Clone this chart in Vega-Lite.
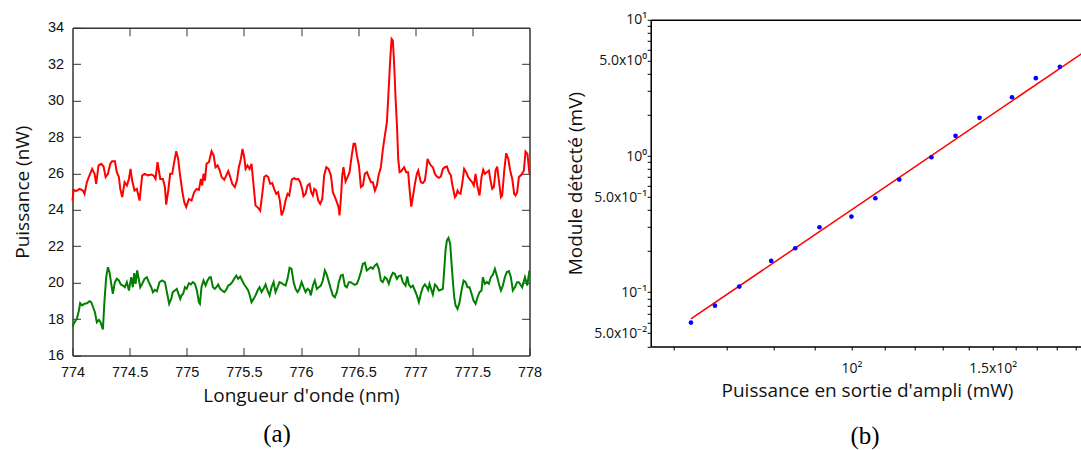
{
  "$schema": "https://vega.github.io/schema/vega-lite/v6.json",
  "background": "white",
  "padding": {"left": 12.5, "top": 12.8, "right": 0, "bottom": 0},
  "bounds": "flush",
  "spacing": 121.2,
  "datasets": {
    "red": [
      {"nm":774.0,"nW":24.51},{"nm":774.009,"nW":25.10},{"nm":774.032,"nW":25.03},{"nm":774.062,"nW":25.15},{"nm":774.091,"nW":25.06},{"nm":774.105,"nW":24.88},{"nm":774.126,"nW":25.52},{"nm":774.149,"nW":25.89},{"nm":774.172,"nW":26.25},{"nm":774.193,"nW":25.98},{"nm":774.207,"nW":25.43},{"nm":774.228,"nW":26.44},{"nm":774.251,"nW":26.53},{"nm":774.272,"nW":26.38},{"nm":774.290,"nW":25.80},{"nm":774.310,"nW":25.98},{"nm":774.331,"nW":26.53},{"nm":774.347,"nW":26.67},{"nm":774.371,"nW":26.67},{"nm":774.388,"nW":26.07},{"nm":774.406,"nW":25.80},{"nm":774.418,"nW":25.15},{"nm":774.435,"nW":24.70},{"nm":774.456,"nW":25.52},{"nm":774.476,"nW":25.34},{"nm":774.494,"nW":25.70},{"nm":774.508,"nW":26.25},{"nm":774.522,"nW":25.61},{"nm":774.543,"nW":25.06},{"nm":774.563,"nW":25.15},{"nm":774.587,"nW":24.51},{"nm":774.610,"nW":25.89},{"nm":774.633,"nW":25.98},{"nm":774.660,"nW":25.89},{"nm":774.689,"nW":25.94},{"nm":774.709,"nW":25.89},{"nm":774.727,"nW":25.70},{"nm":774.744,"nW":26.62},{"nm":774.768,"nW":25.70},{"nm":774.791,"nW":25.70},{"nm":774.809,"nW":25.25},{"nm":774.820,"nW":24.29},{"nm":774.838,"nW":25.06},{"nm":774.855,"nW":25.98},{"nm":774.873,"nW":25.98},{"nm":774.890,"nW":26.62},{"nm":774.908,"nW":27.22},{"nm":774.925,"nW":26.80},
      {"nm":774.940,"nW":25.98},{"nm":774.960,"nW":25.06},{"nm":774.978,"nW":24.42},{"nm":774.995,"nW":24.15},{"nm":775.019,"nW":24.60},{"nm":775.042,"nW":24.51},{"nm":775.065,"nW":24.97},{"nm":775.086,"nW":25.15},{"nm":775.106,"nW":25.10},{"nm":775.124,"nW":25.70},{"nm":775.135,"nW":25.34},{"nm":775.147,"nW":25.98},{"nm":775.159,"nW":25.61},{"nm":775.173,"nW":26.53},{"nm":775.194,"nW":26.62},{"nm":775.217,"nW":27.22},{"nm":775.235,"nW":26.99},{"nm":775.252,"nW":26.34},{"nm":775.270,"nW":26.44},{"nm":775.287,"nW":26.20},{"nm":775.305,"nW":25.80},{"nm":775.328,"nW":25.65},{"nm":775.346,"nW":25.89},{"nm":775.363,"nW":26.12},{"nm":775.381,"nW":25.80},{"nm":775.398,"nW":25.43},{"nm":775.421,"nW":25.25},{"nm":775.439,"nW":25.61},{"nm":775.456,"nW":26.34},{"nm":775.474,"nW":26.80},{"nm":775.488,"nW":27.35},{"nm":775.503,"nW":26.89},{"nm":775.515,"nW":26.25},{"nm":775.532,"nW":26.44},{"nm":775.550,"nW":26.25},{"nm":775.567,"nW":26.53},{"nm":775.585,"nW":25.34},{"nm":775.602,"nW":24.24},{"nm":775.625,"nW":24.11},{"nm":775.643,"nW":23.96},{"nm":775.661,"nW":24.88},{"nm":775.678,"nW":25.80},{"nm":775.695,"nW":25.89},{"nm":775.713,"nW":25.80},{"nm":775.730,"nW":25.43},{"nm":775.748,"nW":25.47},{"nm":775.765,"nW":25.15},{"nm":775.783,"nW":24.88},{"nm":775.800,"nW":24.97},{"nm":775.815,"nW":24.51},{"nm":775.830,"nW":23.69},{"nm":775.847,"nW":23.96},{"nm":775.865,"nW":24.51},{"nm":775.882,"nW":24.88},{"nm":775.897,"nW":24.79},
      {"nm":775.920,"nW":25.67},{"nm":775.941,"nW":25.74},{"nm":775.958,"nW":25.67},{"nm":775.976,"nW":25.70},{"nm":775.993,"nW":25.52},{"nm":776.010,"nW":25.15},{"nm":776.022,"nW":24.75},{"nm":776.040,"nW":24.88},{"nm":776.057,"nW":25.34},{"nm":776.075,"nW":25.43},{"nm":776.089,"nW":24.97},{"nm":776.104,"nW":24.79},{"nm":776.116,"nW":25.15},{"nm":776.133,"nW":25.06},{"nm":776.151,"nW":24.51},{"nm":776.168,"nW":24.33},{"nm":776.186,"nW":24.60},{"nm":776.203,"nW":25.89},{"nm":776.221,"nW":26.34},{"nm":776.241,"nW":26.25},{"nm":776.262,"nW":25.89},{"nm":776.279,"nW":24.97},{"nm":776.297,"nW":24.70},{"nm":776.314,"nW":24.42},{"nm":776.329,"nW":24.15},{"nm":776.337,"nW":23.69},{"nm":776.349,"nW":24.60},{"nm":776.361,"nW":25.89},{"nm":776.372,"nW":26.34},{"nm":776.390,"nW":25.56},{"nm":776.407,"nW":25.80},{"nm":776.425,"nW":26.07},{"nm":776.442,"nW":26.89},{"nm":776.460,"nW":27.63},{"nm":776.474,"nW":27.63},{"nm":776.489,"nW":26.99},{"nm":776.507,"nW":26.44},{"nm":776.524,"nW":25.25},{"nm":776.542,"nW":25.34},{"nm":776.559,"nW":25.98},{"nm":776.577,"nW":26.07},{"nm":776.594,"nW":25.80},{"nm":776.612,"nW":25.52},{"nm":776.629,"nW":25.52},{"nm":776.647,"nW":25.06},{"nm":776.664,"nW":25.34},{"nm":776.679,"nW":25.89},{"nm":776.699,"nW":26.34},{"nm":776.717,"nW":27.35},{"nm":776.734,"nW":28.08},{"nm":776.752,"nW":28.82},{"nm":776.766,"nW":30.46},{"nm":776.781,"nW":32.29},{"nm":776.793,"nW":33.39},{"nm":776.804,"nW":33.30},{"nm":776.816,"nW":31.93},{"nm":776.828,"nW":30.10},{"nm":776.840,"nW":28.63},{"nm":776.851,"nW":26.80},{"nm":776.863,"nW":26.07},{"nm":776.875,"nW":26.11},
      {"nm":776.903,"nW":26.34},{"nm":776.921,"nW":26.07},{"nm":776.938,"nW":26.07},{"nm":776.950,"nW":25.15},{"nm":776.965,"nW":24.18},{"nm":776.979,"nW":24.70},{"nm":776.997,"nW":25.43},{"nm":777.014,"nW":25.98},{"nm":777.026,"nW":26.16},{"nm":777.038,"nW":25.80},{"nm":777.049,"nW":25.52},{"nm":777.067,"nW":25.47},{"nm":777.084,"nW":25.61},{"nm":777.096,"nW":26.16},{"nm":777.108,"nW":26.80},{"nm":777.119,"nW":26.62},{"nm":777.137,"nW":26.44},{"nm":777.154,"nW":26.34},{"nm":777.172,"nW":25.98},{"nm":777.189,"nW":25.83},{"nm":777.207,"nW":25.76},{"nm":777.224,"nW":25.83},{"nm":777.242,"nW":26.25},{"nm":777.259,"nW":26.34},{"nm":777.277,"nW":26.38},{"nm":777.294,"nW":26.07},{"nm":777.312,"nW":25.89},{"nm":777.323,"nW":25.43},{"nm":777.335,"nW":25.06},{"nm":777.347,"nW":24.70},{"nm":777.358,"nW":24.79},{"nm":777.370,"nW":25.06},{"nm":777.382,"nW":24.92},{"nm":777.396,"nW":24.88},{"nm":777.411,"nW":25.43},{"nm":777.428,"nW":26.25},{"nm":777.446,"nW":26.07},{"nm":777.463,"nW":25.80},{"nm":777.481,"nW":25.65},{"nm":777.498,"nW":25.52},{"nm":777.513,"nW":25.34},{"nm":777.528,"nW":25.98},{"nm":777.545,"nW":25.25},{"nm":777.563,"nW":24.79},{"nm":777.580,"nW":25.80},{"nm":777.595,"nW":26.20},{"nm":777.610,"nW":25.98},{"nm":777.627,"nW":26.07},{"nm":777.645,"nW":26.16},{"nm":777.659,"nW":25.61},{"nm":777.674,"nW":25.15},{"nm":777.688,"nW":25.25},{"nm":777.703,"nW":26.16},{"nm":777.717,"nW":26.38},{"nm":777.732,"nW":25.61},{"nm":777.750,"nW":24.70},{"nm":777.761,"nW":24.79},{"nm":777.779,"nW":26.16},{"nm":777.796,"nW":27.11},{"nm":777.814,"nW":26.80},{"nm":777.831,"nW":26.16},{"nm":777.849,"nW":25.70},{"nm":777.866,"nW":24.88},{"nm":777.878,"nW":24.79},{"nm":777.892,"nW":24.97},{"nm":777.907,"nW":25.79},{"nm":777.930,"nW":25.94},{"nm":777.951,"nW":26.16},{"nm":777.965,"nW":27.21},{"nm":777.982,"nW":27.08},{"nm":778.0,"nW":25.98}
    ],
    "green": [
      {"nm":774.0,"nW":17.59},{"nm":774.018,"nW":17.83},{"nm":774.038,"nW":18.01},{"nm":774.056,"nW":18.47},{"nm":774.067,"nW":18.87},{"nm":774.085,"nW":18.75},{"nm":774.105,"nW":18.84},{"nm":774.126,"nW":18.87},{"nm":774.149,"nW":18.98},{"nm":774.164,"nW":18.93},{"nm":774.178,"nW":18.69},{"nm":774.196,"nW":18.38},{"nm":774.213,"nW":17.83},{"nm":774.231,"nW":17.96},{"nm":774.245,"nW":17.83},{"nm":774.266,"nW":17.43},{"nm":774.280,"nW":19.02},{"nm":774.295,"nW":20.30},{"nm":774.310,"nW":20.85},{"nm":774.324,"nW":20.58},{"nm":774.339,"nW":19.94},{"nm":774.353,"nW":19.39},{"nm":774.371,"nW":20.03},{"nm":774.388,"nW":20.21},{"nm":774.406,"nW":20.12},{"nm":774.423,"nW":19.90},{"nm":774.441,"nW":19.84},{"nm":774.458,"nW":19.75},{"nm":774.476,"nW":20.03},{"nm":774.494,"nW":19.57},{"nm":774.514,"nW":20.30},{"nm":774.528,"nW":19.75},{"nm":774.540,"nW":20.52},{"nm":774.552,"nW":19.94},{"nm":774.566,"nW":20.67},{"nm":774.581,"nW":20.16},{"nm":774.593,"nW":19.75},{"nm":774.610,"nW":19.94},{"nm":774.630,"nW":20.21},{"nm":774.651,"nW":20.30},{"nm":774.668,"nW":20.03},{"nm":774.689,"nW":19.75},{"nm":774.704,"nW":19.48},{"nm":774.721,"nW":19.61},{"nm":774.738,"nW":19.53},{"nm":774.762,"nW":20.03},{"nm":774.785,"nW":20.12},{"nm":774.809,"nW":20.03},{"nm":774.829,"nW":19.39},{"nm":774.846,"nW":18.84},{"nm":774.864,"nW":19.11},{"nm":774.878,"nW":19.48},{"nm":774.896,"nW":19.57},{"nm":774.913,"nW":19.66},
      {"nm":774.943,"nW":19.11},{"nm":774.954,"nW":19.30},{"nm":774.969,"nW":19.39},{"nm":774.984,"nW":19.75},{"nm":774.999,"nW":19.66},{"nm":775.019,"nW":19.97},{"nm":775.036,"nW":19.90},{"nm":775.054,"nW":20.03},{"nm":775.071,"nW":19.94},{"nm":775.089,"nW":19.57},{"nm":775.106,"nW":18.93},{"nm":775.115,"nW":18.84},{"nm":775.129,"nW":19.75},{"nm":775.147,"nW":20.12},{"nm":775.165,"nW":19.84},{"nm":775.182,"nW":20.12},{"nm":775.200,"nW":20.30},{"nm":775.211,"nW":20.30},{"nm":775.229,"nW":19.75},{"nm":775.246,"nW":19.66},{"nm":775.264,"nW":19.79},{"nm":775.275,"nW":19.90},{"nm":775.293,"nW":19.66},{"nm":775.310,"nW":19.57},{"nm":775.328,"nW":19.48},{"nm":775.346,"nW":19.61},{"nm":775.363,"nW":19.84},{"nm":775.381,"nW":19.90},{"nm":775.398,"nW":20.03},{"nm":775.415,"nW":20.21},{"nm":775.433,"nW":20.39},{"nm":775.450,"nW":20.21},{"nm":775.468,"nW":20.34},{"nm":775.485,"nW":20.12},{"nm":775.503,"nW":19.90},{"nm":775.520,"nW":19.75},{"nm":775.538,"nW":19.57},{"nm":775.552,"nW":19.30},{"nm":775.567,"nW":18.93},{"nm":775.585,"nW":19.11},{"nm":775.602,"nW":19.30},{"nm":775.620,"nW":19.57},{"nm":775.637,"nW":19.75},{"nm":775.655,"nW":19.48},{"nm":775.672,"nW":19.66},{"nm":775.690,"nW":19.90},{"nm":775.707,"nW":19.57},{"nm":775.725,"nW":19.30},{"nm":775.742,"nW":19.75},{"nm":775.760,"nW":20.03},{"nm":775.777,"nW":19.48},{"nm":775.795,"nW":19.75},{"nm":775.812,"nW":20.03},{"nm":775.830,"nW":19.97},{"nm":775.847,"nW":19.90},{"nm":775.865,"nW":19.84},{"nm":775.882,"nW":20.21},{"nm":775.900,"nW":20.82},{"nm":775.917,"nW":20.76},
      {"nm":775.935,"nW":20.03},{"nm":775.952,"nW":19.66},{"nm":775.970,"nW":19.48},{"nm":775.987,"nW":19.66},{"nm":776.005,"nW":20.03},{"nm":776.022,"nW":19.75},{"nm":776.040,"nW":19.48},{"nm":776.057,"nW":19.66},{"nm":776.075,"nW":19.57},{"nm":776.086,"nW":19.30},{"nm":776.104,"nW":19.84},{"nm":776.121,"nW":20.12},{"nm":776.139,"nW":19.66},{"nm":776.156,"nW":19.75},{"nm":776.174,"nW":19.84},{"nm":776.191,"nW":20.12},{"nm":776.209,"nW":20.67},{"nm":776.226,"nW":20.43},{"nm":776.244,"nW":20.03},{"nm":776.261,"nW":19.66},{"nm":776.279,"nW":19.30},{"nm":776.296,"nW":19.20},{"nm":776.314,"nW":19.48},{"nm":776.331,"nW":20.03},{"nm":776.349,"nW":20.39},{"nm":776.366,"nW":20.43},{"nm":776.384,"nW":19.84},{"nm":776.401,"nW":19.75},{"nm":776.419,"nW":20.03},{"nm":776.436,"nW":20.03},{"nm":776.454,"nW":19.94},{"nm":776.471,"nW":19.88},{"nm":776.489,"nW":19.94},{"nm":776.506,"nW":20.21},{"nm":776.524,"nW":20.58},{"nm":776.541,"nW":21.03},{"nm":776.559,"nW":21.09},{"nm":776.576,"nW":20.67},{"nm":776.594,"nW":20.76},{"nm":776.611,"nW":20.85},{"nm":776.629,"nW":20.76},{"nm":776.646,"nW":20.94},{"nm":776.664,"nW":21.03},{"nm":776.681,"nW":20.76},{"nm":776.699,"nW":20.12},{"nm":776.716,"nW":20.03},{"nm":776.734,"nW":20.30},{"nm":776.751,"nW":20.21},{"nm":776.769,"nW":19.94},{"nm":776.786,"nW":20.30},{"nm":776.804,"nW":20.54},{"nm":776.821,"nW":20.49},{"nm":776.839,"nW":20.21},{"nm":776.856,"nW":20.36},{"nm":776.874,"nW":20.39},{"nm":776.891,"nW":20.03},
      {"nm":776.915,"nW":19.84},{"nm":776.930,"nW":20.34},{"nm":776.944,"nW":19.90},{"nm":776.962,"nW":19.75},{"nm":776.979,"nW":19.84},{"nm":776.997,"nW":19.57},{"nm":777.014,"nW":19.30},{"nm":777.032,"nW":18.93},{"nm":777.049,"nW":19.39},{"nm":777.067,"nW":19.75},{"nm":777.084,"nW":19.90},{"nm":777.102,"nW":19.75},{"nm":777.113,"nW":19.61},{"nm":777.125,"nW":19.94},{"nm":777.143,"nW":19.57},{"nm":777.154,"nW":19.35},{"nm":777.172,"nW":19.90},{"nm":777.189,"nW":19.79},{"nm":777.207,"nW":19.57},{"nm":777.224,"nW":19.61},{"nm":777.242,"nW":19.66},{"nm":777.253,"nW":20.67},{"nm":777.265,"nW":21.77},{"nm":777.277,"nW":22.32},{"nm":777.291,"nW":22.46},{"nm":777.306,"nW":22.13},{"nm":777.318,"nW":21.03},{"nm":777.329,"nW":20.12},{"nm":777.341,"nW":19.20},{"nm":777.353,"nW":18.75},{"nm":777.370,"nW":18.56},{"nm":777.388,"nW":18.93},{"nm":777.405,"nW":19.57},{"nm":777.423,"nW":20.12},{"nm":777.440,"nW":20.03},{"nm":777.458,"nW":19.75},{"nm":777.475,"nW":19.75},{"nm":777.493,"nW":19.39},{"nm":777.510,"nW":19.02},{"nm":777.528,"nW":18.84},{"nm":777.545,"nW":19.20},{"nm":777.563,"nW":19.48},{"nm":777.580,"nW":19.57},{"nm":777.592,"nW":20.30},{"nm":777.609,"nW":19.94},{"nm":777.627,"nW":20.03},{"nm":777.644,"nW":19.94},{"nm":777.662,"nW":20.30},{"nm":777.680,"nW":20.45},{"nm":777.697,"nW":20.76},{"nm":777.714,"nW":20.39},{"nm":777.732,"nW":19.94},{"nm":777.750,"nW":19.57},{"nm":777.767,"nW":19.84},{"nm":777.784,"nW":20.30},{"nm":777.802,"nW":20.58},{"nm":777.820,"nW":20.63},{"nm":777.837,"nW":20.30},{"nm":777.854,"nW":19.57},{"nm":777.872,"nW":19.75},{"nm":777.892,"nW":20.03},{"nm":777.907,"nW":20.03},{"nm":777.936,"nW":19.75},{"nm":777.960,"nW":20.30},{"nm":777.980,"nW":19.84},{"nm":778.0,"nW":20.67}
    ],
    "pts": [
      {"mw":63.11,"mv":0.0599},{"mw":67.61,"mv":0.0798},{"mw":72.50,"mv":0.1101},{"mw":79.45,"mv":0.1700},{"mw":85.11,"mv":0.2104},{"mw":91.25,"mv":0.3001},{"mw":100.0,"mv":0.3596},{"mw":107.1,"mv":0.4900},{"mw":114.7,"mv":0.6722},{"mw":125.8,"mv":0.980},{"mw":134.8,"mv":1.407},{"mw":144.4,"mv":1.908},{"mw":158.5,"mv":2.702},{"mw":169.7,"mv":3.726},{"mw":181.8,"mv":4.517}
    ],
    "fit": [
      {"mw":63.1,"mv":0.0638},{"mw":194.4,"mv":5.742}
    ]
  },
  "hconcat": [
    {
      "width": 457,
      "height": 335.7,
      "title": {"text": "(a)", "orient": "bottom", "anchor": "middle", "frame": "group", "font": "Liberation Serif", "fontSize": 25, "fontWeight": "normal", "color": "#000", "dx": -24, "offset": 16},
      "layer": [
        {
          "data": {"name": "red"},
          "mark": {"type": "line", "color": "#ff0000", "strokeWidth": 2},
          "encoding": {
            "x": {"field": "nm", "type": "quantitative",
              "scale": {"domain": [774, 778], "nice": false, "zero": false},
              "axis": {"orient": "bottom", "values": [774, 774.5, 775, 775.5, 776, 776.5, 777, 777.5, 778], "format": "~g", "title": "Longueur d'onde (nm)", "tickSize": -8, "labelPadding": 18, "titlePadding": 8, "labelFlush": false, "labelOverlap": false, "labelFont": "Liberation Sans", "labelFontSize": 14.5, "labelColor": "#111", "domainColor": "#333", "domainWidth": 1.5, "tickColor": "#333", "tickWidth": 1}},
            "y": {"field": "nW", "type": "quantitative",
              "scale": {"domain": [16, 34], "range": [335.7, 8], "nice": false, "zero": false},
              "axis": {"orient": "left", "values": [16, 18, 20, 22, 24, 26, 28, 30, 32, 34], "title": "Puissance (nW)", "tickSize": -8, "labelPadding": 17, "titlePadding": 15, "labelOverlap": false, "labelFont": "Liberation Sans", "labelFontSize": 14.5, "labelColor": "#111", "domainColor": "#333", "domainWidth": 1.5, "tickColor": "#333", "tickWidth": 1}}
          }
        },
        {
          "data": {"name": "green"},
          "mark": {"type": "line", "color": "#008000", "strokeWidth": 2},
          "encoding": {
            "x": {"field": "nm", "type": "quantitative",
              "axis": {"orient": "top", "offset": -8, "values": [774.5, 775, 775.5, 776, 776.5, 777, 777.5], "labels": false, "title": null, "tickSize": -8, "domainColor": "#333", "domainWidth": 1.5, "tickColor": "#333", "tickWidth": 1}},
            "y": {"field": "nW", "type": "quantitative",
              "axis": {"orient": "right", "values": [18, 20, 22, 24, 26, 28, 30, 32], "labels": false, "title": null, "tickSize": -8, "domainColor": "#333", "domainWidth": 1.5, "tickColor": "#333", "tickWidth": 1}}
          }
        }
      ],
      "resolve": {"axis": {"x": "independent", "y": "independent"}}
    },
    {
      "width": 432.5,
      "height": 326.7,
      "title": {"text": "(b)", "orient": "bottom", "anchor": "middle", "frame": "group", "font": "Liberation Serif", "fontSize": 25, "fontWeight": "normal", "color": "#000", "dx": -2, "offset": 23},
      "layer": [
        {
          "data": {"name": "fit"},
          "mark": {"type": "line", "color": "#ff0000", "strokeWidth": 1.5, "clip": true},
          "encoding": {
            "x": {"field": "mw", "type": "quantitative",
              "scale": {"type": "log", "domain": [56.23, 194.4], "nice": false},
              "axis": {"orient": "top", "labels": false, "ticks": false, "title": null, "domainColor": "#000", "domainWidth": 1.5}},
            "y": {"field": "mv", "type": "quantitative",
              "scale": {"type": "log", "domain": [0.04, 10], "nice": false},
              "axis": {"orient": "left", "values": [0.04, 0.05, 0.06, 0.07, 0.08, 0.09, 0.1, 0.2, 0.3, 0.4, 0.5, 0.6, 0.7, 0.8, 0.9, 1, 2, 3, 4, 5, 6, 7, 8, 9, 10],
                "labelExpr": "datum.value == 10 ? '10¹' : datum.value == 5 ? '5.0x10⁰' : datum.value == 1 ? '10⁰' : datum.value == 0.5 ? '5.0x10⁻¹' : datum.value == 0.1 ? '10⁻¹' : datum.value == 0.05 ? '5.0x10⁻²' : ''",
                "title": "Module détecté (mV)", "tickSize": 3.5, "labelPadding": 0.5, "titlePadding": 8, "labelOverlap": false, "labelFont": "Open Sans", "labelFontSize": 14, "labelColor": "#111", "domainColor": "#000", "domainWidth": 1.5, "tickColor": "#000", "tickWidth": 1}}
          }
        },
        {
          "data": {"name": "pts"},
          "mark": {"type": "circle", "color": "#0000ff", "size": 22, "opacity": 1},
          "encoding": {
            "x": {"field": "mw", "type": "quantitative",
              "axis": {"orient": "bottom", "values": [60, 70, 80, 90, 100, 110, 120, 130, 140, 150, 160, 170, 180, 190],
                "labelExpr": "datum.value == 100 ? '10²' : datum.value == 150 ? '1.5x10²' : ''",
                "title": "Puissance en sortie d'ampli (mW)", "tickSize": 3.5, "labelPadding": 12, "titlePadding": 6, "labelFlush": false, "labelOverlap": false, "labelFont": "Open Sans", "labelFontSize": 14, "labelColor": "#111", "domainColor": "#000", "domainWidth": 1.5, "tickColor": "#000", "tickWidth": 1}},
            "y": {"field": "mv", "type": "quantitative"}
          }
        }
      ],
      "resolve": {"axis": {"x": "independent"}}
    }
  ],
  "config": {
    "view": {"stroke": null},
    "axis": {"grid": false, "titleFont": "Open Sans", "titleFontWeight": "normal", "titleFontSize": 19, "titleColor": "#111"}
  }
}
